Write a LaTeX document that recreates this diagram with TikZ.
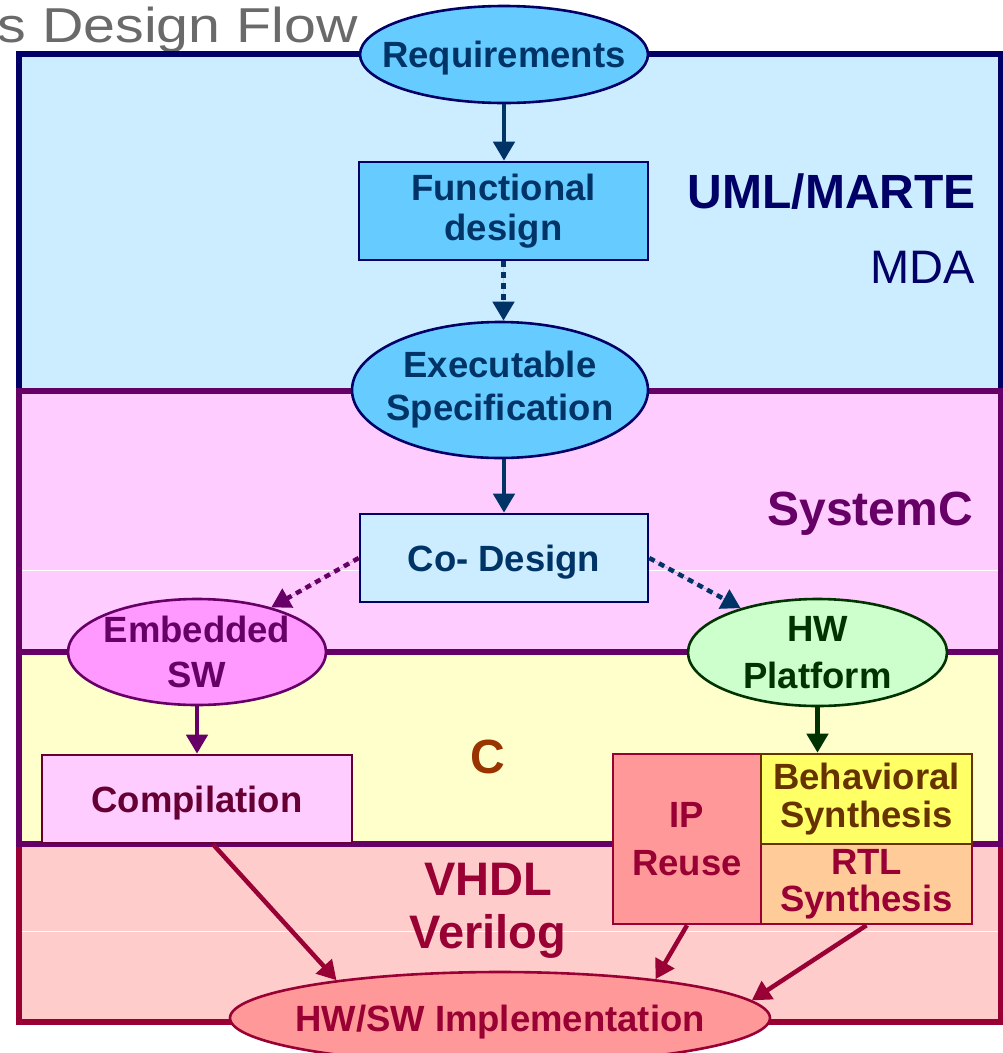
\documentclass[tikz,border=0pt]{standalone}
\usepackage{fontspec}
\setmainfont{Liberation Sans}
\usetikzlibrary{shapes.geometric,arrows.meta,calc}

% palette
\definecolor{bandnavy}{HTML}{000066}
\definecolor{bandblue}{HTML}{CCECFF}
\definecolor{nodeblue}{HTML}{66CCFF}
\definecolor{inkblue}{HTML}{003366}
\definecolor{bandpink}{HTML}{FFCCFF}
\definecolor{plum}{HTML}{660066}
\definecolor{embfill}{HTML}{FF99FF}
\definecolor{wine}{HTML}{660033}
\definecolor{bandyellow}{HTML}{FFFFCC}
\definecolor{hwfill}{HTML}{CCFFCC}
\definecolor{forest}{HTML}{003300}
\definecolor{bandred}{HTML}{FFCCCC}
\definecolor{crimson}{HTML}{990033}
\definecolor{salmon}{HTML}{FF9999}
\definecolor{lemon}{HTML}{FFFF66}
\definecolor{brownink}{HTML}{663300}
\definecolor{peach}{HTML}{FFCC99}
\definecolor{rust}{HTML}{993300}
\definecolor{titlegray}{HTML}{6A6A6A}

\newcommand\boxfont[1]{\fontsize{36.5}{#1}\selectfont\bfseries}

\tikzset{
  band/.style={line width=6pt},
  shade line/.style={white, line width=1pt},
  % negative inner sep so that the ellipse size comes from the minimum sizes
  ellnode/.style={ellipse, inner xsep=-60pt, inner ysep=-30pt, line width=2.6pt, align=center},
  boxnode/.style={rectangle, inner sep=0pt, line width=2.6pt, align=center},
  flow/.style={line width=4.5pt, -{Triangle[length=19pt,width=21pt]}},
  dotflow/.style={flow, dash pattern=on 6pt off 5pt},
  bandlabel/.style={font=\fontsize{48}{50}\selectfont\bfseries},
}

\begin{document}
\begin{tikzpicture}[x=1pt,y=-1pt]
\clip (0,0) rectangle (1003,1053);
\fill[white] (0,0) rectangle (1003,1053);

% heading, partly cut off on the left
\node[anchor=base east, text=titlegray, inner sep=0pt,
      font=\fontsize{49}{50}\selectfont] (title) at (358,42)
      {\scalebox{1.17}[1]{s Design Flow}};

% abstraction-level bands
\draw[band, draw=bandnavy, fill=bandblue] (19,54) rectangle (1001,391);
\draw[band, draw=plum, fill=bandpink] (19,391) rectangle (1001,652);
\draw[band, draw=crimson, fill=bandred] (19,844) rectangle (1001,1022);
\draw[band, draw=plum, fill=bandyellow] (19,652) rectangle (1001,844);
\draw[shade line] (22,570) -- (998,570);
\draw[shade line] (22,931) -- (998,931);

% band labels
\node[bandlabel, anchor=base east, text=bandnavy, inner sep=0pt] (uml) at (976,208) {UML/MARTE};
\node[anchor=base east, text=bandnavy, inner sep=0pt,
      font=\fontsize{47}{50}\selectfont] (mda) at (975,283) {MDA};
\node[bandlabel, anchor=base east, text=plum, inner sep=0pt] (sysc) at (973,525) {SystemC};
\node[bandlabel, anchor=base, text=rust, inner sep=0pt] (clang) at (488,773) {C};
\node[align=center, text=crimson, inner sep=0pt,
      font=\fontsize{47}{53}\selectfont\bfseries] (hdl) at (488,911) {VHDL\\Verilog};

% flow nodes
\node[ellnode, draw=bandnavy, fill=nodeblue, text=inkblue, font=\boxfont{42}, text depth=0pt,
      minimum width=288pt, minimum height=97pt] (req) at (504,54.5) {Requirements};
\node[boxnode, draw=bandnavy, fill=nodeblue, text=inkblue, font=\boxfont{40},
      minimum width=289pt, minimum height=98pt] (func) at (503.5,211) {Functional\\design};
\node[ellnode, draw=bandnavy, fill=nodeblue, text=inkblue, font=\boxfont{43},
      minimum width=296pt, minimum height=136pt] (exec) at (500,390) {Executable\\Specification};
\node[boxnode, draw=bandnavy, fill=bandblue, text=inkblue, font=\boxfont{42}, text depth=0pt,
      minimum width=288pt, minimum height=88pt] (codes) at (504,558) {Co- Design};
\node[ellnode, draw=plum, fill=embfill, text=plum, font=\boxfont{45},
      minimum width=258pt, minimum height=106pt] (emb) at (197,652) {Embedded\\SW};
\node[ellnode, draw=forest, fill=hwfill, text=forest, font=\boxfont{47},
      minimum width=259pt, minimum height=107pt] (hwp) at (817.5,652.5) {HW\\Platform};
\node[boxnode, draw=wine, fill=bandpink, text=wine, font=\boxfont{42}, text depth=0pt,
      minimum width=310pt, minimum height=88pt] (comp) at (197,799) {Compilation};
\node[boxnode, draw=crimson, fill=salmon, text=crimson, font=\boxfont{48},
      minimum width=148pt, minimum height=170pt] (ip) at (687,839) {IP\\Reuse};
\node[boxnode, draw=crimson, fill=peach, text=crimson, font=\boxfont{37},
      minimum width=211pt, minimum height=80pt] (rtl) at (866.5,884) {RTL\\Synthesis};
\node[boxnode, draw=brownink, fill=lemon, text=brownink, font=\boxfont{38},
      minimum width=211pt, minimum height=90pt] (behav) at (866.5,799) {Behavioral\\Synthesis};
\node[ellnode, draw=crimson, fill=salmon, text=crimson, font=\boxfont{42}, text depth=0pt,
      minimum width=540pt, minimum height=92pt] (impl) at (500,1018) {HW/SW Implementation};

% connectors
\draw[flow, draw=inkblue, fill=inkblue] (req.south) -- (req.south |- func.north);
\draw[dotflow, draw=inkblue, fill=inkblue] (func.south) -- (func.south |- exec.north);
\draw[flow, draw=inkblue, fill=inkblue] (exec.south -| codes.north) -- (codes.north);
\draw[dotflow, draw=plum, fill=plum] (codes.west) -- (emb.31);
\draw[dotflow, draw=inkblue, fill=inkblue] (codes.east) -- (hwp.150);
\draw[flow, draw=plum, fill=plum] (emb.south) -- (comp.north);
\draw[flow, draw=forest, fill=forest] (hwp.south) -- (hwp.south |- behav.north);
\draw[flow, draw=crimson, fill=crimson] ($(comp.south)+(16,0)$) -- (impl.167);
\draw[flow, draw=crimson, fill=crimson] (ip.south) -- (impl.14);
\draw[flow, draw=crimson, fill=crimson] (rtl.south) -- (impl.4);
\end{tikzpicture}
\end{document}
